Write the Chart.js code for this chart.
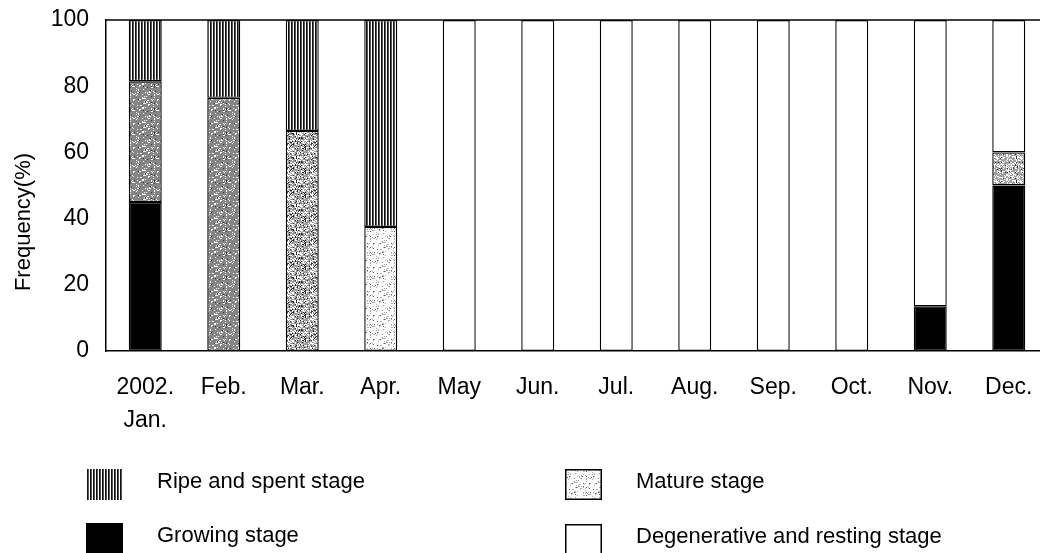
<!DOCTYPE html>
<html lang="en">
<head>
    <meta charset="UTF-8">
    <title>Gonad stage frequency by month</title>
    <script src="https://cdn.jsdelivr.net/npm/chart.js"></script>
    <style>
        html, body {
            margin: 0;
            padding: 0;
            background: #fff;
            overflow: hidden;
        }
        .wrap {
            position: absolute;
            left: 0;
            top: 0;
            width: 1050px;
            height: 553px;
        }
    </style>
</head>
<body>
    <div class="wrap">
        <canvas id="stageChart" width="1050" height="553"></canvas>
    </div>

    <script>
        // Months (first label is two lines in the figure)
        const months = [['2002.', 'Jan.'], 'Feb.', 'Mar.', 'Apr.', 'May', 'Jun.', 'Jul.', 'Aug.', 'Sep.', 'Oct.', 'Nov.', 'Dec.'];

        // Frequency (%) of each stage
        const growing      = [45,   0,    0,    0,    0,   0,   0,   0,   0,   0,   13.5, 50];
        const mature       = [36.5, 76.5, 66.5, 37.5, 0,   0,   0,   0,   0,   0,   0,    10];
        const ripe         = [18.5, 23.5, 33.5, 62.5, 0,   0,   0,   0,   0,   0,   0,    0];
        const degenerative = [0,    0,    0,    0,    100, 100, 100, 100, 100, 100, 86.5, 40];

        const yTicks = [0, 20, 40, 60, 80, 100];
        const yTitle = 'Frequency(%)';

        const FONT = "'Liberation Sans', Arial, sans-serif";

        // --- fill patterns (screen-tone look of the scanned figure) ---
        function makePattern(w, h, draw) {
            const c = document.createElement('canvas');
            c.width = w;
            c.height = h;
            const g = c.getContext('2d');
            draw(g, w, h);
            return g.createPattern(c, 'repeat');
        }

        // deterministic speckle: hash of pixel position -> 0..1
        function speck(x, y) {
            const n = Math.sin(x * 12.9898 + y * 78.233) * 43758.5453;
            return n - Math.floor(n);
        }

        function speckle(base, dots) {
            return makePattern(24, 24, (g, w, h) => {
                g.fillStyle = base;
                g.fillRect(0, 0, w, h);
                for (let y = 0; y < h; y++) {
                    for (let x = 0; x < w; x++) {
                        const v = speck(x, y);
                        let acc = 0;
                        for (const d of dots) {
                            acc += d.p;
                            if (v < acc) {
                                g.fillStyle = d.c;
                                g.fillRect(x, y, 1, 1);
                                break;
                            }
                        }
                    }
                }
            });
        }

        const stripes = makePattern(3, 4, (g) => {
            g.fillStyle = '#fff';
            g.fillRect(0, 0, 3, 4);
            g.fillStyle = '#111';
            g.fillRect(0, 0, 1, 4);
            g.fillStyle = '#555';
            g.fillRect(1, 0, 1, 4);
        });

        const matureDark  = speckle('#858585', [{ p: 0.14, c: '#fff' }, { p: 0.03, c: '#333' }]);
        const matureMixed = speckle('#9a9a9a', [{ p: 0.35, c: '#fff' }, { p: 0.15, c: '#222' }]);
        const matureMid   = speckle('#a0a0a0', [{ p: 0.4, c: '#fff' }, { p: 0.06, c: '#333' }]);
        const matureLight = speckle('#fbfbfb', [{ p: 0.12, c: '#b0b0b0' }, { p: 0.03, c: '#555' }]);

        const matureFills = [matureDark, matureDark, matureMixed, matureLight, matureLight, matureLight,
                             matureLight, matureLight, matureLight, matureLight, matureLight, matureMid];

        // top frame line, y title and a 2x2 legend under the chart
        const frameAndLegend = {
            id: 'frameAndLegend',
            afterDraw(chart) {
                const ctx = chart.ctx;
                const a = chart.chartArea;
                ctx.save();
                ctx.strokeStyle = '#000';
                ctx.lineWidth = 1.5;
                ctx.beginPath();
                ctx.moveTo(a.left, a.top);
                ctx.lineTo(a.right + 5, a.top);
                ctx.stroke();

                // y axis title sits a bit below the middle in the figure
                ctx.save();
                ctx.translate(24, 222);
                ctx.rotate(-Math.PI / 2);
                ctx.font = '22px ' + FONT;
                ctx.fillStyle = '#000';
                ctx.textAlign = 'center';
                ctx.textBaseline = 'middle';
                ctx.fillText(yTitle, 0, 0);
                ctx.restore();

                const items = [
                    { text: 'Ripe and spent stage', fill: stripes, border: false, x: 86, y: 469 },
                    { text: 'Mature stage', fill: matureLight, border: true, x: 565, y: 469 },
                    { text: 'Growing stage', fill: '#000', border: false, x: 86, y: 523 },
                    { text: 'Degenerative and resting stage', fill: '#fff', border: true, x: 565, y: 524 }
                ];
                ctx.font = '22px ' + FONT;
                ctx.textBaseline = 'middle';
                ctx.textAlign = 'left';
                items.forEach(it => {
                    ctx.fillStyle = it.fill;
                    ctx.fillRect(it.x, it.y, 37, 31);
                    if (it.border) {
                        ctx.lineWidth = 1.5;
                        ctx.strokeStyle = '#000';
                        ctx.strokeRect(it.x + 0.75, it.y + 0.75, 35.5, 29.5);
                    }
                    ctx.fillStyle = '#000';
                    ctx.fillText(it.text, it.x + 71, it.y + 13);
                });
                ctx.restore();
            }
        };

        const barStyle = {
            borderColor: '#000',
            borderWidth: 1.4,
            borderSkipped: false,
            barPercentage: 0.42,
            categoryPercentage: 1.0
        };

        // scales keep a fixed size; no extra label overflow padding
        function noPadding(scale) {
            scale.paddingTop = 0;
            scale.paddingBottom = 0;
            scale.paddingLeft = 0;
            scale.paddingRight = 0;
        }

        const ctx = document.getElementById('stageChart').getContext('2d');
        const stageChart = new Chart(ctx, {
            type: 'bar',
            data: {
                labels: months,
                datasets: [
                    { label: 'Growing stage', data: growing, backgroundColor: '#000', ...barStyle },
                    { label: 'Mature stage', data: mature, backgroundColor: matureFills, ...barStyle },
                    { label: 'Ripe and spent stage', data: ripe, backgroundColor: stripes, ...barStyle },
                    { label: 'Degenerative and resting stage', data: degenerative, backgroundColor: '#fff', ...barStyle }
                ]
            },
            options: {
                responsive: false,
                animation: false,
                devicePixelRatio: 1,
                layout: {
                    padding: { left: 0, top: 20, right: 2, bottom: 0 }
                },
                plugins: {
                    legend: { display: false },
                    tooltip: { enabled: false },
                    title: { display: false }
                },
                scales: {
                    x: {
                        stacked: true,
                        grid: { display: false, drawTicks: false },
                        border: { display: true, color: '#000', width: 1.5 },
                        ticks: {
                            color: '#000',
                            padding: 21,
                            maxRotation: 0,
                            autoSkip: false,
                            font: { family: FONT, size: 23, lineHeight: 1.4 }
                        },
                        afterFit(scale) {
                            scale.height = 553 - 351;
                            noPadding(scale);
                        }
                    },
                    y: {
                        stacked: true,
                        min: 0,
                        max: 100,
                        afterBuildTicks(scale) {
                            scale.ticks = yTicks.map(v => ({ value: v }));
                        },
                        grid: { display: false, drawTicks: false },
                        border: { display: true, color: '#000', width: 1.5 },
                        ticks: {
                            color: '#000',
                            padding: 17,
                            font: { family: FONT, size: 23 }
                        },
                        afterFit(scale) {
                            scale.width = 106;
                            noPadding(scale);
                        }
                    }
                }
            },
            plugins: [frameAndLegend]
        });
    </script>
</body>
</html>
